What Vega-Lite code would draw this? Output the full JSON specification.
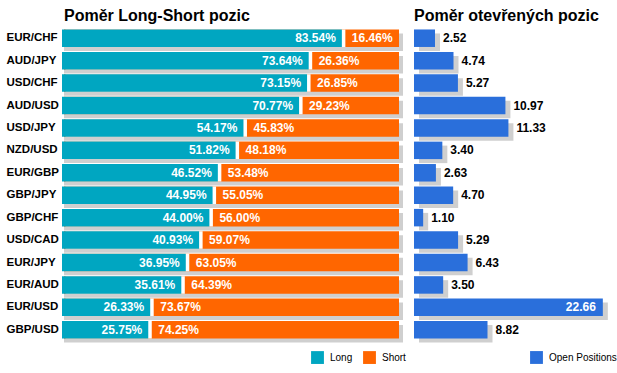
{
  "$schema": "https://vega.github.io/schema/vega-lite/v6.json",
  "padding": {"left": 6, "top": 8, "right": 0, "bottom": 0},
  "background": "white",
  "config": {
    "view": {"stroke": null},
    "font": "Liberation Sans",
    "title": {"font": "Liberation Sans", "fontSize": 16, "fontWeight": "bold", "anchor": "start", "frame": "group", "color": "#000000", "offset": 3},
    "legend": {"labelFont": "Liberation Sans", "labelFontSize": 10, "labelColor": "#000000", "symbolType": "square", "symbolSize": 165, "symbolStrokeWidth": 0, "symbolOpacity": 1, "labelOffset": 6, "columnPadding": 10, "padding": 0}
  },
  "datasets": {
    "pairs": [
      {"pair": "EUR/CHF", "long": 0.8354, "short": 0.1646, "open": 2.52},
      {"pair": "AUD/JPY", "long": 0.7364, "short": 0.2636, "open": 4.74},
      {"pair": "USD/CHF", "long": 0.7315, "short": 0.2685, "open": 5.27},
      {"pair": "AUD/USD", "long": 0.7077, "short": 0.2923, "open": 10.97},
      {"pair": "USD/JPY", "long": 0.5417, "short": 0.4583, "open": 11.33},
      {"pair": "NZD/USD", "long": 0.5182, "short": 0.4818, "open": 3.40},
      {"pair": "EUR/GBP", "long": 0.4652, "short": 0.5348, "open": 2.63},
      {"pair": "GBP/JPY", "long": 0.4495, "short": 0.5505, "open": 4.70},
      {"pair": "GBP/CHF", "long": 0.4400, "short": 0.5600, "open": 1.10},
      {"pair": "USD/CAD", "long": 0.4093, "short": 0.5907, "open": 5.29},
      {"pair": "EUR/JPY", "long": 0.3695, "short": 0.6305, "open": 6.43},
      {"pair": "EUR/AUD", "long": 0.3561, "short": 0.6439, "open": 3.50},
      {"pair": "EUR/USD", "long": 0.2633, "short": 0.7367, "open": 22.66},
      {"pair": "GBP/USD", "long": 0.2575, "short": 0.7425, "open": 8.82}
    ]
  },
  "hconcat": [
    {
      "title": "Poměr Long-Short pozic",
      "width": 335,
      "height": 314,
      "data": {"name": "pairs"},
      "encoding": {
        "y": {
          "field": "pair", "type": "nominal", "sort": null,
          "scale": {"paddingInner": 0.22, "paddingOuter": 0.11},
          "axis": {"title": null, "domain": false, "ticks": false, "grid": false, "labelAlign": "left", "labelPadding": 58, "labelFont": "Liberation Sans", "labelFontSize": 11.5, "labelFontWeight": "bold", "labelColor": "#000000"}
        }
      },
      "layer": [
        {
          "mark": {"type": "bar", "color": "#cfcfcf", "xOffset": 4, "x2Offset": 3, "yOffset": 4, "y2Offset": 4},
          "encoding": {
            "x": {"datum": 1, "type": "quantitative", "scale": {"domain": [0, 1], "nice": false, "zero": true}, "axis": null}
          }
        },
        {
          "mark": {"type": "bar"},
          "encoding": {
            "x": {"datum": 1, "type": "quantitative"},
            "color": {"datum": "Short", "type": "nominal", "scale": {"domain": ["Long", "Short"], "range": ["#00a6c1", "#ff6600"]},
              "legend": {"title": null, "orient": "none", "direction": "horizontal", "legendX": 247, "legendY": 324}}
          }
        },
        {
          "mark": {"type": "bar", "color": "white", "xOffset": 1.5},
          "encoding": {
            "x": {"field": "long", "type": "quantitative"}
          }
        },
        {
          "mark": {"type": "bar", "xOffset": -2},
          "encoding": {
            "x": {"field": "long", "type": "quantitative"},
            "color": {"datum": "Long", "type": "nominal"}
          }
        },
        {
          "mark": {"type": "text", "align": "right", "baseline": "middle", "dx": -8, "color": "white", "fontSize": 12, "fontWeight": "bold", "font": "Liberation Sans"},
          "encoding": {
            "x": {"field": "long", "type": "quantitative"},
            "text": {"field": "long", "type": "quantitative", "format": ".2%"}
          }
        },
        {
          "mark": {"type": "text", "align": "left", "baseline": "middle", "dx": 8, "color": "white", "fontSize": 12, "fontWeight": "bold", "font": "Liberation Sans"},
          "encoding": {
            "x": {"field": "long", "type": "quantitative"},
            "text": {"field": "short", "type": "quantitative", "format": ".2%"}
          }
        }
      ]
    },
    {
      "title": "Poměr otevřených pozic",
      "width": 200,
      "height": 314,
      "data": {"name": "pairs"},
      "encoding": {
        "y": {
          "field": "pair", "type": "nominal", "sort": null,
          "scale": {"paddingInner": 0.22, "paddingOuter": 0.11},
          "axis": null
        }
      },
      "layer": [
        {
          "mark": {"type": "bar", "color": "#cfcfcf", "xOffset": 5, "x2Offset": 3, "yOffset": 4, "y2Offset": 4},
          "encoding": {
            "x": {"field": "open", "type": "quantitative", "scale": {"domain": [0, 24], "nice": false}, "axis": null}
          }
        },
        {
          "mark": {"type": "bar"},
          "encoding": {
            "x": {"field": "open", "type": "quantitative"},
            "color": {"datum": "Open Positions", "type": "nominal", "scale": {"range": ["#2a6fdb"]},
              "legend": {"title": null, "orient": "none", "direction": "horizontal", "legendX": 116, "legendY": 324}}
          }
        },
        {
          "transform": [{"filter": "datum.open < 20"}],
          "mark": {"type": "text", "align": "left", "baseline": "middle", "dx": 8, "color": "black", "fontSize": 12, "fontWeight": "bold", "font": "Liberation Sans"},
          "encoding": {
            "x": {"field": "open", "type": "quantitative"},
            "text": {"field": "open", "type": "quantitative", "format": ".2f"}
          }
        },
        {
          "transform": [{"filter": "datum.open >= 20"}],
          "mark": {"type": "text", "align": "right", "baseline": "middle", "dx": -7, "color": "white", "fontSize": 12, "fontWeight": "bold", "font": "Liberation Sans"},
          "encoding": {
            "x": {"field": "open", "type": "quantitative"},
            "text": {"field": "open", "type": "quantitative", "format": ".2f"}
          }
        }
      ]
    }
  ],
  "spacing": 15,
  "bounds": "flush",
  "resolve": {"scale": {"color": "independent"}, "legend": {"color": "independent"}}
}
